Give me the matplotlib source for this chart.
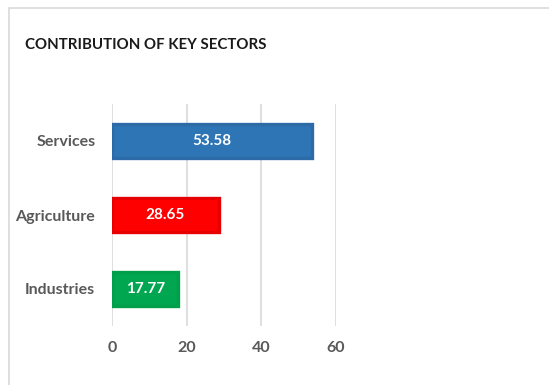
import matplotlib
matplotlib.use("Agg")
import matplotlib.pyplot as plt
from matplotlib.patches import Rectangle

categories = ["Industries", "Agriculture", "Services"]
values = [17.77, 28.65, 53.58]
fills = ["#00A650", "#FF0000", "#2E75B6"]
edges = ["#00A04A", "#E60000", "#2D6BA8"]
xticks = [0, 20, 40, 60]

W, H = 549, 385
fig = plt.figure(figsize=(W / 100, H / 100), dpi=100)
fig.patch.set_facecolor("white")

def px(x0, y0, x1, y1):
    return [x0 / W, 1 - y1 / H, (x1 - x0) / W, (y1 - y0) / H]

# outer chart frame
fig.add_artist(Rectangle((9 / W, -0.1), 1.2, 1 - 8 / H + 0.1,
                         transform=fig.transFigure, fill=False,
                         edgecolor="#D9D9D9", linewidth=1.2))

fig.text(25 / W, 1 - 45 / H, "CONTRIBUTION OF KEY SECTORS", fontsize=10.8,
         fontweight="bold", color="#1A1A1A", family="Lato", va="center")

ax = fig.add_axes(px(112, 104, 336, 326))
ax.set_xlim(0, 60)
ax.set_ylim(-0.5, 2.5)
ax.set_facecolor("none")
for s in ax.spines.values():
    s.set_visible(False)

ax.barh(range(len(categories)), values, height=0.47, color=fills,
        edgecolor=edges, linewidth=2.4, zorder=3)
for i, v in enumerate(values):
    ax.text(v / 2, i, f"{v:.2f}", ha="center", va="center", color="white",
            fontsize=11, fontweight="bold", family="Lato", zorder=4)

ax.set_xticks(xticks)
ax.set_xticklabels([str(t) for t in xticks])
ax.set_yticks(range(len(categories)))
ax.set_yticklabels(categories)
ax.tick_params(axis="both", length=0, colors="#595959", labelsize=11.5)
ax.tick_params(axis="x", pad=11)
ax.tick_params(axis="y", pad=12)
for lab in ax.get_xticklabels() + ax.get_yticklabels():
    lab.set_fontweight("bold")
    lab.set_family("Lato")
ax.grid(axis="x", color="#D9D9D9", linewidth=1.2, zorder=0)
ax.set_axisbelow(True)

fig.savefig("out.png", dpi=100, facecolor="white")
